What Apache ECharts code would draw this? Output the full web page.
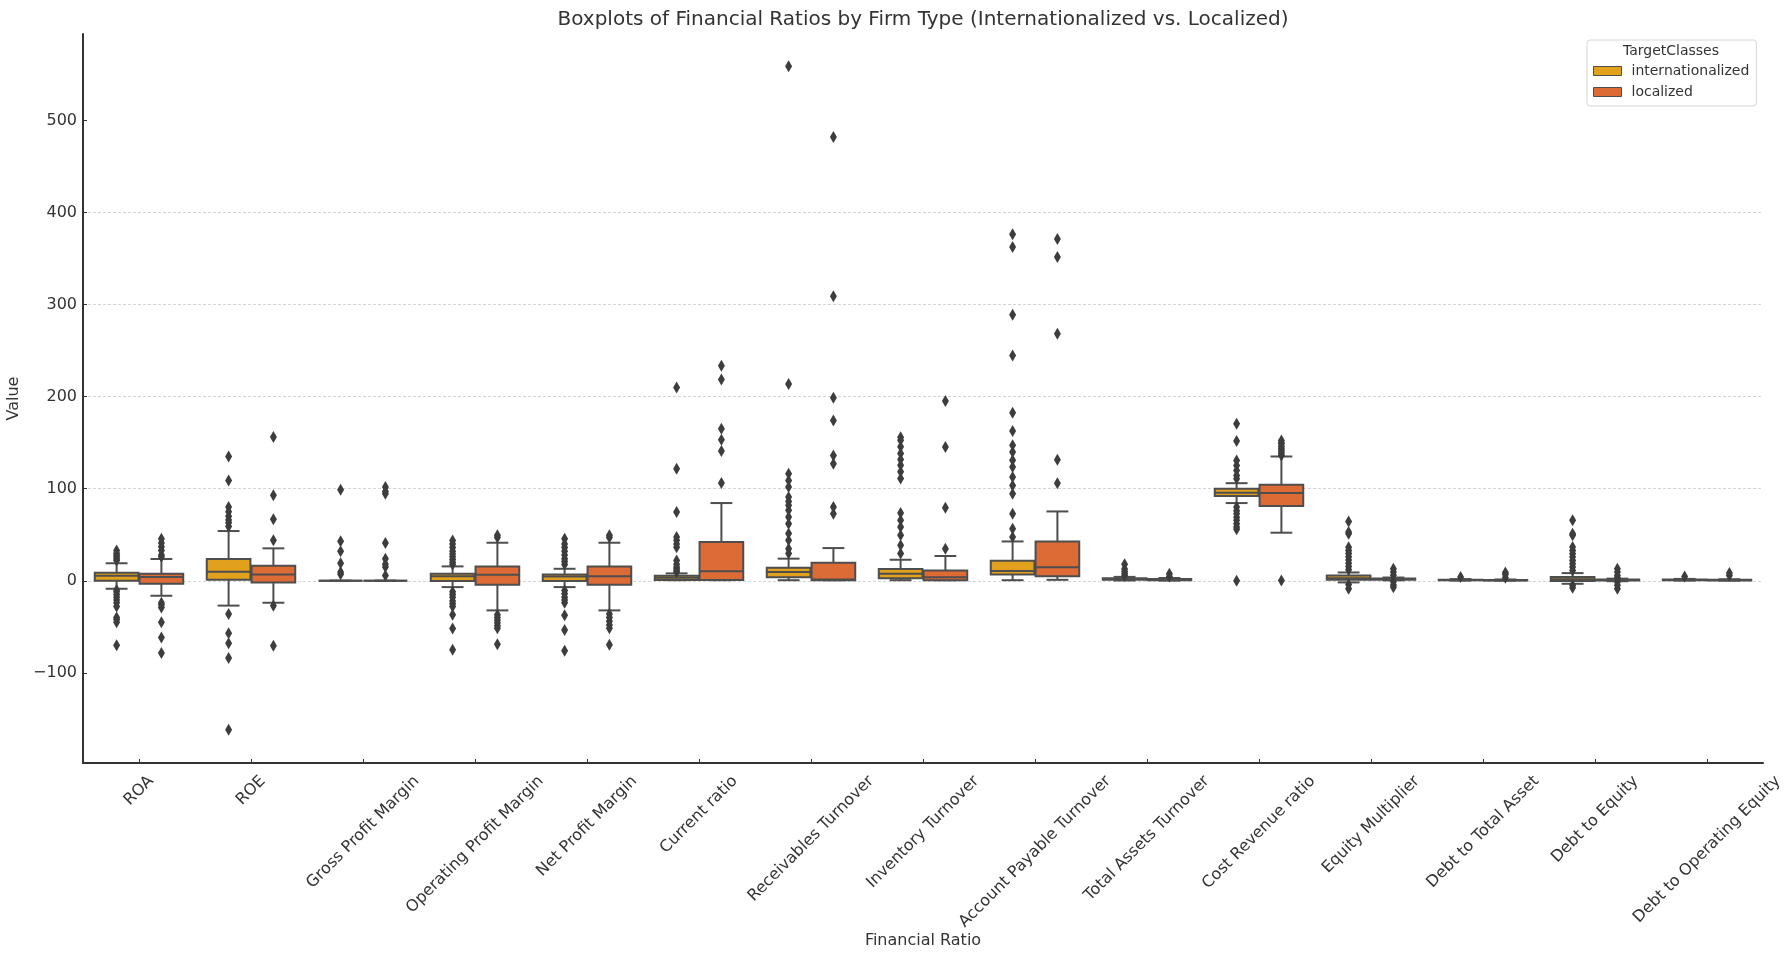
<!DOCTYPE html>
<html>
<head>
<meta charset="utf-8">
<title>Boxplots of Financial Ratios by Firm Type</title>
<script src="https://cdn.jsdelivr.net/npm/echarts@6/dist/echarts.min.js"></script>
<style>
html, body { margin: 0; padding: 0; background: #fff; }
#chart { width: 1791px; height: 954px; }
</style>
</head>
<body>
<div id="chart"></div>
<script>
const categories = ['ROA', 'ROE', 'Gross Profit Margin', 'Operating Profit Margin', 'Net Profit Margin',
  'Current ratio', 'Receivables Turnover', 'Inventory Turnover', 'Account Payable Turnover',
  'Total Assets Turnover', 'Cost Revenue ratio', 'Equity Multiplier', 'Debt to Total Asset',
  'Debt to Equity', 'Debt to Operating Equity'];

const yTicks = [-100, 0, 100, 200, 300, 400, 500];

// [low whisker, Q1, median, Q3, high whisker]
const intlBoxes = [
  [-8.7, 0, 5.4, 8.7, 19],
  [-27, 1.1, 9.8, 23.6, 54],
  [0, 0, 0, 0, 0],
  [-6.9, -0.4, 5, 7.6, 15.6],
  [-6.9, -0.4, 4.7, 6.9, 13],
  [0.6, 0.8, 3.2, 5.5, 8],
  [0.6, 3.9, 9.4, 14, 24],
  [0.6, 2.7, 7.6, 12.9, 22.8],
  [0.6, 6.8, 10.7, 21.6, 42.7],
  [0.3, 1, 1.8, 2.8, 4.2],
  [84.4, 92, 95.7, 100, 106],
  [-1.8, 1.1, 2.7, 5.8, 9],
  [0.2, 0.5, 0.8, 1.2, 1.8],
  [-3.3, -0.4, 1.5, 4, 8.3],
  [0.2, 0.5, 0.8, 1.3, 2]
];

const localBoxes = [
  [-16.3, -3.3, 4, 7.6, 23.6],
  [-23.9, -1.8, 6.9, 16.3, 35.2],
  [0, 0, 0, 0, 0],
  [-32.2, -4.3, 6.5, 15.6, 41.3],
  [-32.2, -4.3, 5, 15.6, 41.3],
  [0.6, 0.9, 10.3, 42, 84.4],
  [0.6, 0.6, 1.3, 19.5, 35.5],
  [0.6, 0.6, 3.9, 11.1, 26.9],
  [1, 5, 14.8, 42.7, 75.3],
  [0.2, 0.5, 1, 1.8, 3],
  [52.2, 81.1, 95.2, 104.3, 135],
  [0.5, 1.2, 1.8, 2.4, 3.5],
  [0.2, 0.4, 0.6, 0.9, 1.4],
  [-0.5, 0.3, 0.8, 1.4, 2.3],
  [0.2, 0.4, 0.7, 1, 1.6]
];

const intlOutliers = [
  [22, 24, 26, 28, 30, 33, -10, -12, -15, -18, -21, -24, -28, -40, -42, -45, -70],
  [59, 63, 66, 70, 75, 80, 109, 135, -36, -57, -68, -84, -162],
  [99, 43, 32, 19, 9.4, 7],
  [17.6, 20, 23, 26, 29, 32, 36, 40, 43.8, -12, -15, -18, -22, -25, -28, -37, -52, -75],
  [17.6, 21, 24, 28, 32, 36, 40, 45.6, -10.5, -14, -18, -21, -24, -37.6, -53.5, -76],
  [9.4, 11, 13, 14.9, 18, 22, 36.5, 40, 44, 47.4, 74.6, 121.7, 210],
  [29.5, 34.9, 44, 51.2, 62, 69.3, 76.5, 82, 86, 91, 101.9, 109, 116.3, 213.7, 559],
  [29.5, 38.5, 49.4, 58.4, 65.7, 73.6, 111, 118.3, 125.5, 131.7, 138.2, 145.5, 152.7, 156],
  [47.4, 56.5, 72.9, 94.6, 103.6, 112.7, 123.6, 130.8, 139.9, 147.1, 162.7, 182.6, 244.7, 289, 362.7, 376.4],
  [5.5, 7.5, 10, 12.9, 18],
  [110.7, 114.3, 119.8, 125.2, 130.7, 151.7, 170.6, 80, 76, 72.9, 69, 65.6, 62, 58.4, 56, 0],
  [12, 15.6, 19, 22.5, 26, 29.7, 33, 36.5, 51, 52.9, 64.5, -4, -8.7],
  [4],
  [11.2, 14.9, 18.5, 22.1, 25.7, 29.3, 33, 36.6, 49.3, 51, 65.6, -5, -7.6],
  [4.7]
];

const localOutliers = [
  [26, 28, 33, 37, 41, 45.6, -24, -26, -29, -45, -61.6, -78.6],
  [43.9, 66.7, 92.8, 156.2, -27.2, -70.7],
  [101.8, 97, 94.6, 41, 23.9, 18, 14.9, 5.8],
  [47, 49.3, -37, -40, -43, -46, -49, -51.5, -69],
  [47, 49.3, -36, -40, -44, -48, -51.5, -69.6],
  [106.1, 140.9, 153.2, 165.1, 218.6, 233.5],
  [72.9, 80.1, 127.2, 136.2, 174.2, 198.8, 309, 482],
  [34.9, 79.4, 145.3, 195.2],
  [106, 131.5, 268.3, 351.6, 371.4],
  [4.6, 7.5],
  [136, 138, 140, 142, 144, 146, 148.8, 150, 152.5, 0.3],
  [13, 9.6, 6, -1, -4.7, -7],
  [3.3, 6.9, 9],
  [13, 9.4, 5.8, 3.2, -1.4, -5, -8.7],
  [5.8, 8.5]
];

const INTL_COLOR = '#E1A11D';
const LOCAL_COLOR = '#DD6B35';
const EDGE = '#4e4e4e';
const TEXT = '#333333';
const FONT = 'DejaVu Sans';

const GRID = { left: 83, right: 28, top: 34, bottom: 191 };
const BAND = (1791 - GRID.left - GRID.right) / categories.length;
const SHIFT = 0.2;       // hue offset from category centre, in bands
const BOX_W = 0.39;      // box width, in bands
const LABEL_LH = 19;     // line height of the x tick labels

// matplotlib-style rotated labels: centred under the tick, top of the rotated box at the axis.
// align/verticalAlign have to sit on each item, the axis-level ones are not inherited.
const measure = document.createElement('canvas').getContext('2d');
measure.font = '16px "' + FONT + '"';
const catItems = categories.map(function (c) {
  const L = measure.measureText(c).width;
  const pr = 0.5 * (L + 18.5);
  const pt = Math.max((pr - LABEL_LH) / 2, 0);
  return {
    value: c,
    textStyle: { align: 'center', verticalAlign: 'top', padding: [pt, pr, 0, 0] }
  };
});

function boxRenderer(shift, fill) {
  return function (params, api) {
    const idx = api.value(0);
    const band = api.size([1, 0])[0];
    const cx = api.coord([idx, 0])[0] + shift * band;
    const half = band * BOX_W / 2;
    const y = function (i) { return api.coord([idx, api.value(i)])[1]; };
    const yLow = y(1), yQ1 = y(2), yMed = y(3), yQ3 = y(4), yHigh = y(5);
    const ln = function (x1, y1, x2, y2) {
      return { type: 'line', shape: { x1: x1, y1: y1, x2: x2, y2: y2 },
        style: { stroke: EDGE, lineWidth: 2 } };
    };
    return {
      type: 'group',
      children: [
        ln(cx, yQ1, cx, yLow),
        ln(cx, yQ3, cx, yHigh),
        ln(cx - half / 2, yLow, cx + half / 2, yLow),
        ln(cx - half / 2, yHigh, cx + half / 2, yHigh),
        { type: 'rect', shape: { x: cx - half, y: yQ3, width: 2 * half, height: Math.max(yQ1 - yQ3, 0) },
          style: { fill: fill, stroke: EDGE, lineWidth: 2 } },
        ln(cx - half, yMed, cx + half, yMed)
      ]
    };
  };
}

function boxData(boxes) {
  return boxes.map(function (b, i) { return [i].concat(b); });
}

function outlierData(lists) {
  const pts = [];
  lists.forEach(function (list, i) {
    list.forEach(function (v) { pts.push([i, v]); });
  });
  return pts;
}

function minus(v) {
  return String(v).replace('-', '\u2212');
}

const chart = echarts.init(document.getElementById('chart'));

chart.setOption({
  animation: false,
  backgroundColor: '#fff',
  textStyle: { fontFamily: FONT },
  title: [
    {
      text: 'Boxplots of Financial Ratios by Firm Type (Internationalized vs. Localized)',
      left: 923, top: 10, textAlign: 'center', padding: 0,
      textStyle: { fontSize: 20, fontWeight: 'normal', color: TEXT, fontFamily: FONT }
    },
    {
      text: 'TargetClasses',
      left: 1671, top: 44, textAlign: 'center', padding: 0,
      textStyle: { fontSize: 14, fontWeight: 'normal', color: TEXT, fontFamily: FONT }
    }
  ],
  legend: {
    orient: 'vertical',
    left: 1587, top: 40,
    padding: [23, 7, 6, 6],
    itemWidth: 28, itemHeight: 9, itemGap: 5,
    icon: 'rect',
    borderColor: '#d6d6d6', borderWidth: 1, borderRadius: 3,
    textStyle: { fontSize: 14, color: TEXT, fontFamily: FONT, lineHeight: 16, padding: [0, 0, 0, 5] },
    data: [
      { name: 'internationalized', itemStyle: { color: INTL_COLOR, borderColor: EDGE, borderWidth: 1 } },
      { name: 'localized', itemStyle: { color: LOCAL_COLOR, borderColor: EDGE, borderWidth: 1 } }
    ]
  },
  grid: { left: GRID.left, right: GRID.right, top: GRID.top, bottom: GRID.bottom, containLabel: false, outerBoundsMode: 'none' },
  xAxis: {
    type: 'category',
    data: catItems,
    boundaryGap: true,
    name: 'Financial Ratio',
    nameLocation: 'middle',
    nameGap: 170,
    nameMoveOverlap: false,
    nameTextStyle: { fontSize: 16, color: TEXT, fontFamily: FONT },
    axisLine: { show: true, onZero: false, lineStyle: { color: '#333', width: 2 } },
    axisTick: { show: true, inside: true, length: 4, alignWithLabel: true, interval: 0, lineStyle: { color: '#333' } },
    axisLabel: { interval: 0, rotate: 45, margin: 9,
      lineHeight: LABEL_LH, fontSize: 16, color: TEXT, fontFamily: FONT },
    splitLine: { show: false }
  },
  yAxis: {
    type: 'value',
    min: -198, max: 594,
    splitNumber: 8, minInterval: 100, maxInterval: 100,
    name: 'Value',
    nameLocation: 'middle',
    nameGap: 48,
    nameTextStyle: { fontSize: 16, color: TEXT, fontFamily: FONT },
    axisLine: { show: true, lineStyle: { color: '#333', width: 2 } },
    axisTick: { show: true, inside: true, length: 4, customValues: yTicks, lineStyle: { color: '#333' } },
    axisLabel: { fontSize: 16, color: TEXT, fontFamily: FONT, margin: 6, customValues: yTicks,
      formatter: function (v) { return minus(v); } },
    splitLine: { show: true, showMinLine: false, showMaxLine: false,
      lineStyle: { type: [3, 2], color: '#d4d4d4', width: 1 } }
  },
  series: [
    {
      name: 'internationalized', type: 'custom',
      renderItem: boxRenderer(-SHIFT, INTL_COLOR),
      itemStyle: { color: INTL_COLOR },
      encode: { x: 0, y: [1, 2, 3, 4, 5] },
      data: boxData(intlBoxes), z: 2
    },
    {
      name: 'localized', type: 'custom',
      renderItem: boxRenderer(SHIFT, LOCAL_COLOR),
      itemStyle: { color: LOCAL_COLOR },
      encode: { x: 0, y: [1, 2, 3, 4, 5] },
      data: boxData(localBoxes), z: 2
    },
    {
      name: 'internationalized outliers', type: 'scatter',
      symbol: 'diamond', symbolSize: [7, 12], symbolOffset: [-SHIFT * BAND, 0],
      itemStyle: { color: '#3d3d3d', opacity: 1 },
      data: outlierData(intlOutliers), z: 3
    },
    {
      name: 'localized outliers', type: 'scatter',
      symbol: 'diamond', symbolSize: [7, 12], symbolOffset: [SHIFT * BAND, 0],
      itemStyle: { color: '#3d3d3d', opacity: 1 },
      data: outlierData(localOutliers), z: 3
    }
  ]
});
</script>
</body>
</html>
